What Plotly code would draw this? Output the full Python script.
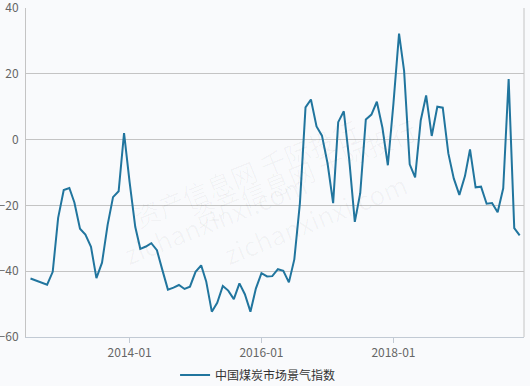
import plotly.graph_objects as go
import pandas as pd

dates = pd.date_range("2012-07-01", "2019-12-01", freq="MS").strftime("%Y-%m-%d").tolist()
values = [
    -42.2, -42.8, -43.3, -44.1, -40.2, -23.8, -15.3, -14.7, -19.1, -27.1, -28.9, -32.6,
    -42.1, -37.4, -25.9, -17.5, -15.7, 2.0, -13.0, -26.5, -33.2, -32.5, -31.5, -33.6,
    -39.6, -45.6, -45.0, -44.2, -45.4, -44.7, -40.2, -38.2, -43.1, -52.3, -49.6, -44.5,
    -45.9, -48.5, -43.7, -47.0, -52.3, -45.3, -40.6, -41.6, -41.5, -39.4, -39.9, -43.4,
    -36.4, -19.3, 9.8, 12.2, 4.0, 1.2, -7.2, -19.3, 5.3, 8.6, -6.0, -25.0,
    -16.3, 6.1, 7.6, 11.5, 3.6, -7.8, 11.0, 32.2, 20.9, -7.5, -11.5, 5.8,
    13.4, 1.1, 10.0, 9.7, -4.2, -11.8, -16.8, -11.1, -3.0, -14.5, -14.3, -19.5,
    -19.3, -22.1, -14.8, 18.4, -26.9, -29.1,
]
series_name = "中国煤炭市场景气指数"
x_ticks = ["2014-01-01", "2016-01-01", "2018-01-01"]
x_tick_labels = ["2014-01", "2016-01", "2018-01"]
y_ticks = [-60, -40, -20, 0, 20, 40]

font_family = "Noto Sans CJK SC, Noto Sans, sans-serif"
bg = "#f9fafc"

fig = go.Figure()
fig.add_trace(go.Scatter(
    x=dates, y=values, mode="lines", name=series_name,
    line=dict(color="#21759e", width=2),
))

fig.update_layout(
    width=530, height=386,
    margin=dict(l=25.5, r=5.7, t=8, b=49.3, autoexpand=False),
    paper_bgcolor=bg, plot_bgcolor=bg,
    font=dict(family=font_family, size=12, color="#666666"),
    showlegend=True,
    legend=dict(orientation="h", x=0.466, xanchor="center",
                yref="container", y=0.066, yanchor="top",
                font=dict(size=12, color="#333333"), bgcolor="rgba(0,0,0,0)",
                itemwidth=30),
    xaxis=dict(
        type="date", range=["2012-06-06", "2019-12-25"],
        tickvals=x_ticks, ticktext=x_tick_labels,
        showgrid=False, zeroline=False, automargin=False,
        showline=True, linecolor="#c2cad4", linewidth=1, mirror=False,
        ticks="outside", ticklen=5, tickcolor="#c2cad4",
        tickfont=dict(size=12, color="#666666"),
    ),
    yaxis=dict(
        range=[-60, 40], tickvals=y_ticks, automargin=False,
        ticklabeloverflow="allow",
        showgrid=True, gridcolor="#c4c4c4", gridwidth=1,
        zeroline=False, showline=True, linecolor="#c4c4c4", linewidth=1,
        ticks="", tickfont=dict(size=12, color="#666666"), ticklabelstandoff=4,
    ),
)
# right border line
fig.add_shape(type="line", xref="paper", yref="paper", x0=1, x1=1, y0=0, y1=1,
              line=dict(color="#c4c4c4", width=1))

# faint watermark
for (xp, yp) in [(0.2, 0.5), (0.8, 0.5)]:
    fig.add_annotation(xref="paper", yref="paper", x=xp, y=yp, text="资产信息网 千际投行",
                       showarrow=False, textangle=-22,
                       font=dict(size=26, color="rgba(0,0,0,0.03)", family=font_family))
    fig.add_annotation(xref="paper", yref="paper", x=xp - 0.02, y=yp - 0.14, text="zichanxinxi.com",
                       showarrow=False, textangle=-22,
                       font=dict(size=26, color="rgba(0,0,0,0.03)", family=font_family))

fig.write_html("out.html")
